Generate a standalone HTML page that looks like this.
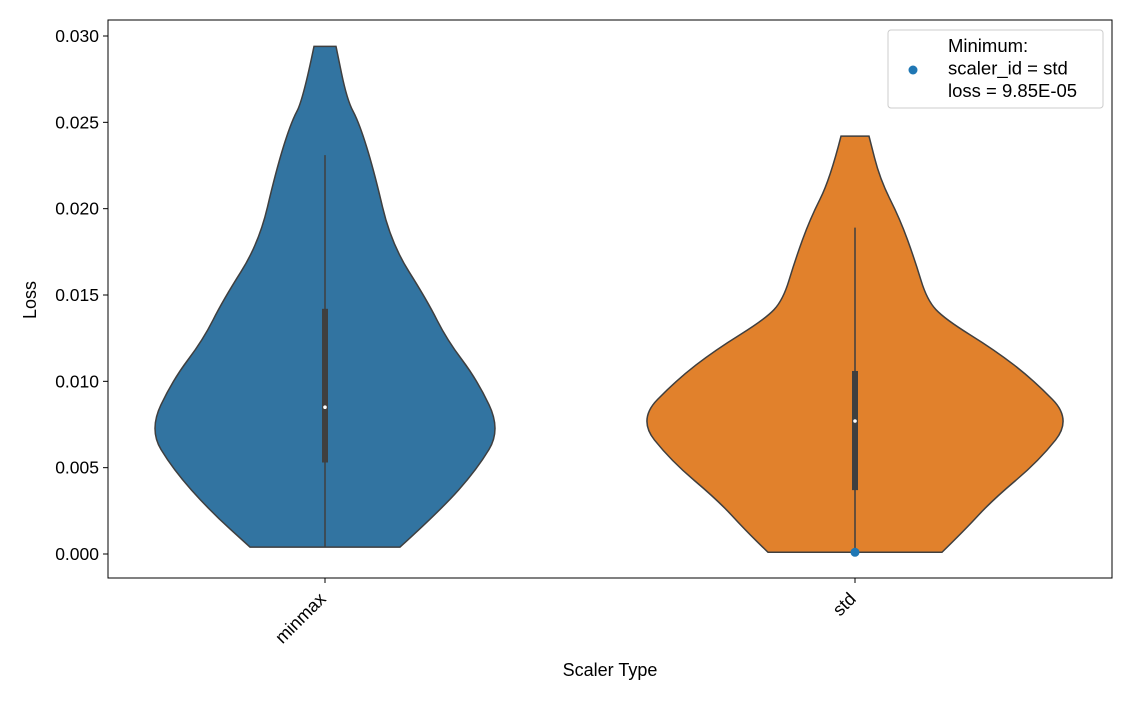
<!DOCTYPE html>
<html><head><meta charset="utf-8"><style>
body{margin:0;background:#fff;font-family:"Liberation Sans","DejaVu Sans",sans-serif}
svg text{font-family:"Liberation Sans","DejaVu Sans",sans-serif;fill:#000}
</style></head><body>
<svg id="chart" width="1132" height="700"></svg>
<script>
const categories=["minmax","std"];
const colors=["#3274a1","#e1812c"];
const yTicks=[0,0.005,0.01,0.015,0.02,0.025,0.03];
const profileLoss0=[0.0004,0.0025,0.0049,0.0072,0.0101,0.0124,0.0147,0.018,0.0222,0.025,0.0263,0.0294];
const profileDens0=[75,115,152,176,152,122,102,66,49,34,22,11];
const profileLoss1=[0.0001,0.0014,0.0031,0.0054,0.0078,0.0101,0.0118,0.0136,0.0147,0.017,0.0194,0.0217,0.0242];
const profileDens1=[87,110,137,184,217,178,140,90,72,60,45,25,14];
const whiskerLow=[0.0004,0.0001];
const whiskerHigh=[0.0231,0.0189];
const q1=[0.0053,0.0037];
const q3=[0.0142,0.0106];
const medians=[0.0085,0.0077];
const minPoint={cat:1,loss:0.0000985};
const L=108,R=1112,T=20,B=578;
const y=v=>554-(v/0.005)*86.333;
const x=i=>325+i*530;
const ns="http://www.w3.org/2000/svg";
const svg=document.getElementById('chart');
function el(t,a,p){const e=document.createElementNS(ns,t);for(const k in a)e.setAttribute(k,a[k]);(p||svg).appendChild(e);return e;}
function smooth(pts){let d="M"+pts[0][0]+","+pts[0][1];for(let i=1;i<pts.length-1;i++){const mx=(pts[i][0]+pts[i+1][0])/2,my=(pts[i][1]+pts[i+1][1])/2;d+=" Q"+pts[i][0]+","+pts[i][1]+" "+mx+","+my;}const l=pts[pts.length-1];d+=" L"+l[0]+","+l[1];return d;}
const profs=[[profileLoss0,profileDens0],[profileLoss1,profileDens1]];
profs.forEach((p,i)=>{
 const cx=x(i);const [ls,ds]=p;
 const right=ls.map((v,j)=>[cx+ds[j],y(v)]);
 const left=ls.map((v,j)=>[cx-ds[j],y(v)]).reverse();
 let d=smooth(right);
 d+=" L"+left[0][0]+","+left[0][1];
 d+=smooth(left).replace(/^M[^ ]*/,"");
 d+=" Z";
 const v=el('path',{d:d,fill:colors[i],stroke:'#3f3f3f','stroke-width':1.5});
 
 
 const w=el('line',{x1:cx,x2:cx,y1:y(whiskerLow[i]),y2:y(whiskerHigh[i]),stroke:'#3f3f3f','stroke-width':1.5});
 
 
 const b=el('rect',{x:cx-3,y:y(q3[i]),width:6,height:y(q1[i])-y(q3[i]),fill:'#3f3f3f'});
 
 
 const m=el('circle',{cx:cx,cy:y(medians[i]),r:1.8,fill:'#fff'});
 
 
});
const mp=el('circle',{cx:x(minPoint.cat),cy:y(minPoint.loss),r:4.5,fill:'#1f77b4'});


const fr=el('rect',{x:L,y:T,width:R-L,height:B-T,fill:'none',stroke:'#000','stroke-width':1});


yTicks.forEach(t=>{
 const tk=el('line',{x1:L-5,x2:L,y1:y(t),y2:y(t),stroke:'#000'});
 
 
 const tx=el('text',{x:L-9,y:y(t)+6,'text-anchor':'end','font-size':17.5});
 tx.textContent=t.toFixed(3);
 
 
});
categories.forEach((c,i)=>{
 const tk=el('line',{x1:x(i),x2:x(i),y1:B,y2:B+5,stroke:'#000'});
 
 
 const ax=x(i)+2, ay=B+22;
 const tx=el('text',{x:ax,y:ay,'text-anchor':'end','font-size':18,transform:'rotate(-45 '+ax+' '+ay+')'});
 tx.textContent=c;
 
 
});
const xt=el('text',{x:610,y:676,'text-anchor':'middle','font-size':18});
xt.textContent='Scaler Type';


const yt=el('text',{x:36,y:300,'text-anchor':'middle','font-size':18,transform:'rotate(-90 36 300)'});
yt.textContent='Loss';


const lg=el('g',{});


el('rect',{x:888,y:30,width:215,height:78,rx:3,fill:'#fff',stroke:'#ccc'},lg);
el('circle',{cx:913,cy:70,r:4.5,fill:'#1f77b4'},lg);
['Minimum:','scaler_id = std','loss = 9.85E-05'].forEach((s,k)=>{const t=el('text',{x:948,y:52+k*22.5,'font-size':18.5},lg);t.textContent=s;});
</script>
</body></html>
